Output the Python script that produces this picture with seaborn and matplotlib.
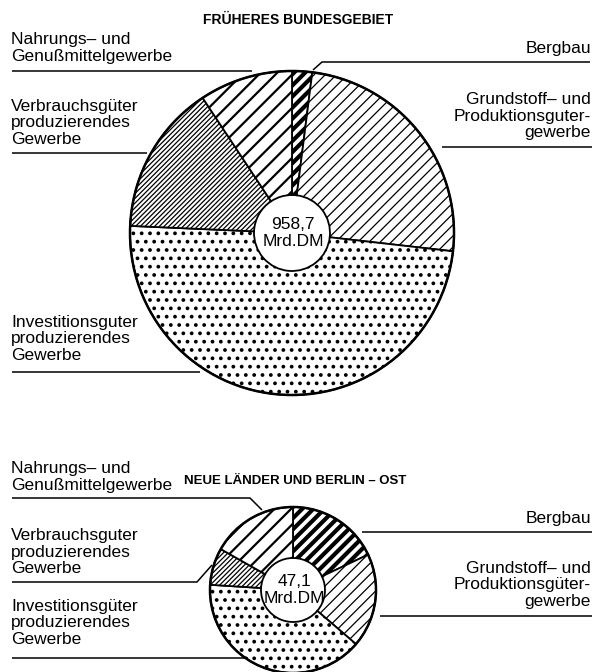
import matplotlib
matplotlib.use("Agg")
import matplotlib.pyplot as plt
import seaborn as sns

# ---------------- data ----------------
sectors = ["Bergbau",
           "Grundstoff– und Produktionsgütergewerbe",
           "Investitionsgüter produzierendes Gewerbe",
           "Verbrauchsgüter produzierendes Gewerbe",
           "Nahrungs– und Genußmittelgewerbe"]
west_shares = [2.0, 24.8, 48.9, 15.0, 9.3]     # % of 958,7 Mrd. DM
east_shares = [18.0, 18.3, 39.7, 7.2, 16.8]    # % of 47,1 Mrd. DM
west_total = "958,7\nMrd.DM"
east_total = "47,1\nMrd.DM"
titles = ["FRÜHERES BUNDESGEBIET", "NEUE LÄNDER UND BERLIN – OST"]

west_labels = ["Bergbau",
               "Grundstoff– und\nProduktionsguter-\ngewerbe",
               "Investitionsguter\nproduzierendes\nGewerbe",
               "Verbrauchsgüter\nproduzierendes\nGewerbe",
               "Nahrungs– und\nGenußmittelgewerbe"]
east_labels = ["Bergbau",
               "Grundstoff– und\nProduktionsgüter-\ngewerbe",
               "Investitionsgüter\nproduzierendes\nGewerbe",
               "Verbrauchsguter\nproduzierendes\nGewerbe",
               "Nahrungs– und\nGenußmittelgewerbe"]

# ---------------- style ----------------
sns.set_theme(style="white")
plt.rcParams['font.family'] = ['Liberation Sans', 'DejaVu Sans']
plt.rcParams['text.color'] = 'black'

W, H = 598, 672
fig = plt.figure(figsize=(W / 100, H / 100), dpi=100)
ax = fig.add_axes([0, 0, 1, 1])

def Y(y):
    return H - y

hatches = ['///', '///', '..', '///////', '//']
hatch_lw = [3.0, 0.9, 1.5, 0.9, 1.6]


def draw_pie(shares, cx, cy, R, r, total):
    wedges, _ = ax.pie(shares, center=(cx, Y(cy)), radius=R, startangle=90,
                       counterclock=False, colors=['white'] * len(shares),
                       wedgeprops=dict(width=R - r, edgecolor='black', linewidth=1.3),
                       frame=True)
    for w, h, lw in zip(wedges, hatches, hatch_lw):
        w.set_hatch(h)
        if hasattr(w, 'set_hatch_linewidth'):
            w.set_hatch_linewidth(lw)
    circ = plt.Circle((cx, Y(cy)), R, fill=False, edgecolor='black', lw=1.8)
    ax.add_patch(circ)
    ax.text(cx + 1, Y(cy), total, ha='center', va='center', fontsize=12.5,
            linespacing=1.1, color='black')


draw_pie(west_shares, 292, 233, 162, 38, west_total)
draw_pie(east_shares, 293, 590, 83, 32, east_total)

# titles
ax.text(298, Y(20), titles[0], ha='center', va='center', fontsize=10, fontweight='bold')
ax.text(295, Y(481), titles[1], ha='center', va='center', fontsize=9.5, fontweight='bold')

LX, RX = 11, 591
fs = 12.5


def left_label(txt, cy, line):
    ax.text(LX, Y(cy), txt, ha='left', va='center', fontsize=fs, linespacing=1.15)
    xs, ys = zip(*line)
    ax.plot(xs, [Y(v) for v in ys], color='black', lw=1.1, solid_capstyle='butt')


def right_label(txt, cy, line):
    ax.text(RX, Y(cy), txt, ha='right', va='center', fontsize=fs, linespacing=1.15)
    xs, ys = zip(*line)
    ax.plot(xs, [Y(v) for v in ys], color='black', lw=1.1, solid_capstyle='butt')


# west labels
right_label(west_labels[0], 49, [(313, 70), (322, 62), (590, 62)])
right_label(west_labels[1], 116, [(442, 147), (592, 147)])
left_label(west_labels[2], 339, [(12, 372), (200, 372)])
left_label(west_labels[3], 123, [(12, 153), (147, 153)])
left_label(west_labels[4], 48, [(12, 71), (252, 71)])

# east labels
right_label(east_labels[0], 518, [(362, 532), (592, 532)])
right_label(east_labels[1], 585, [(380, 616), (592, 616)])
left_label(east_labels[2], 623, [(12, 658), (248, 658)])
left_label(east_labels[3], 552, [(12, 582), (197, 582), (212, 565)])
left_label(east_labels[4], 477, [(12, 498), (250, 498), (262, 510)])

ax.set_xlim(0, W)
ax.set_ylim(0, H)
ax.set_aspect('equal')
ax.axis('off')

fig.savefig("out.png", dpi=100, facecolor='white')
